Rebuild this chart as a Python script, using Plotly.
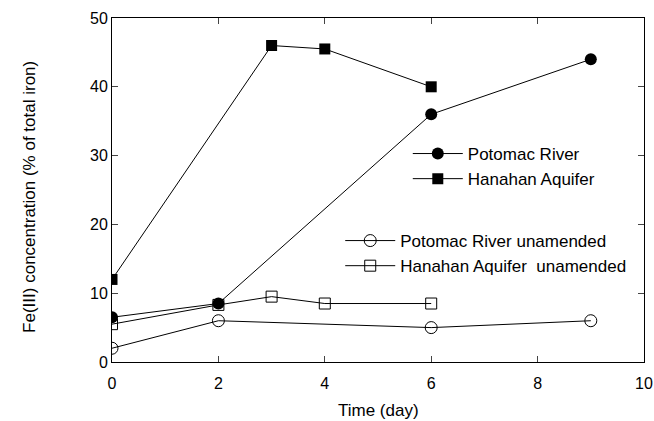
import plotly.graph_objects as go

pot_x = [0, 2, 6, 9]
pot_y = [6.5, 8.5, 36, 44]
han_x = [0, 3, 4, 6]
han_y = [12, 46, 45.5, 40]
potu_x = [0, 2, 6, 9]
potu_y = [2, 6, 5, 6]
hanu_x = [0, 2, 3, 4, 6]
hanu_y = [5.5, 8.3, 9.5, 8.5, 8.5]

line = dict(color="black", width=1)
fig = go.Figure()
fig.add_trace(go.Scatter(x=pot_x, y=pot_y, mode="lines+markers", name="Potomac River",
                         line=line, marker=dict(symbol="circle", size=12, color="black"), legend="legend"))
fig.add_trace(go.Scatter(x=han_x, y=han_y, mode="lines+markers", name="Hanahan Aquifer",
                         line=line, marker=dict(symbol="square", size=11, color="black"), legend="legend"))
fig.add_trace(go.Scatter(x=potu_x, y=potu_y, mode="lines+markers", name="Potomac River unamended",
                         line=line, marker=dict(symbol="circle-open", size=12, color="black", line=dict(width=1)), legend="legend2"))
fig.add_trace(go.Scatter(x=hanu_x, y=hanu_y, mode="lines+markers", name="Hanahan Aquifer  unamended",
                         line=line, marker=dict(symbol="square-open", size=11, color="black", line=dict(width=1)), legend="legend2"))

fam = "Liberation Sans, Arial, sans-serif"
tick_font = dict(family=fam, size=16, color="black")
title_font = dict(family=fam, size=17, color="black")
fig.update_layout(
    width=654, height=421,
    margin=dict(l=112, r=10, t=18, b=59, autoexpand=False),
    paper_bgcolor="white", plot_bgcolor="white",
    font=tick_font,
    showlegend=True,
    legend=dict(x=0.556, y=0.657, xanchor="left", yanchor="top", bgcolor="rgba(0,0,0,0)",
                font=title_font, tracegroupgap=0, itemwidth=50),
    legend2=dict(x=0.429, y=0.404, xanchor="left", yanchor="top", bgcolor="rgba(0,0,0,0)",
                 font=title_font, tracegroupgap=0, itemwidth=50),
    xaxis=dict(range=[0, 10], tickvals=[0, 2, 4, 6, 8, 10], ticks="inside", ticklen=6,
               showline=True, linecolor="black", linewidth=1, mirror="ticks",
               showgrid=False, zeroline=False, tickfont=tick_font, automargin=False,
               ticklabelstandoff=7),
    yaxis=dict(range=[0, 50], tickvals=[0, 10, 20, 30, 40, 50], ticks="inside", ticklen=6,
               showline=True, linecolor="black", linewidth=1, mirror="ticks",
               showgrid=False, zeroline=False, tickfont=tick_font, automargin=False),
    annotations=[
        dict(text="Time (day)", xref="paper", yref="paper", x=0.5, y=-(410 - 362) / 344,
             xanchor="center", yanchor="middle", showarrow=False, font=title_font),
        dict(text="Fe(III) concentration (% of total iron)", xref="paper", yref="paper",
             x=-(112 - 30) / 532, y=0.48, xanchor="center", yanchor="middle",
             textangle=-90, showarrow=False, font=title_font),
    ],
)
fig.write_html(
    "out.html",
    config={"displayModeBar": False},
    post_script="document.body.style.margin='0';document.documentElement.style.overflow='hidden';document.body.style.overflow='hidden';",
)
